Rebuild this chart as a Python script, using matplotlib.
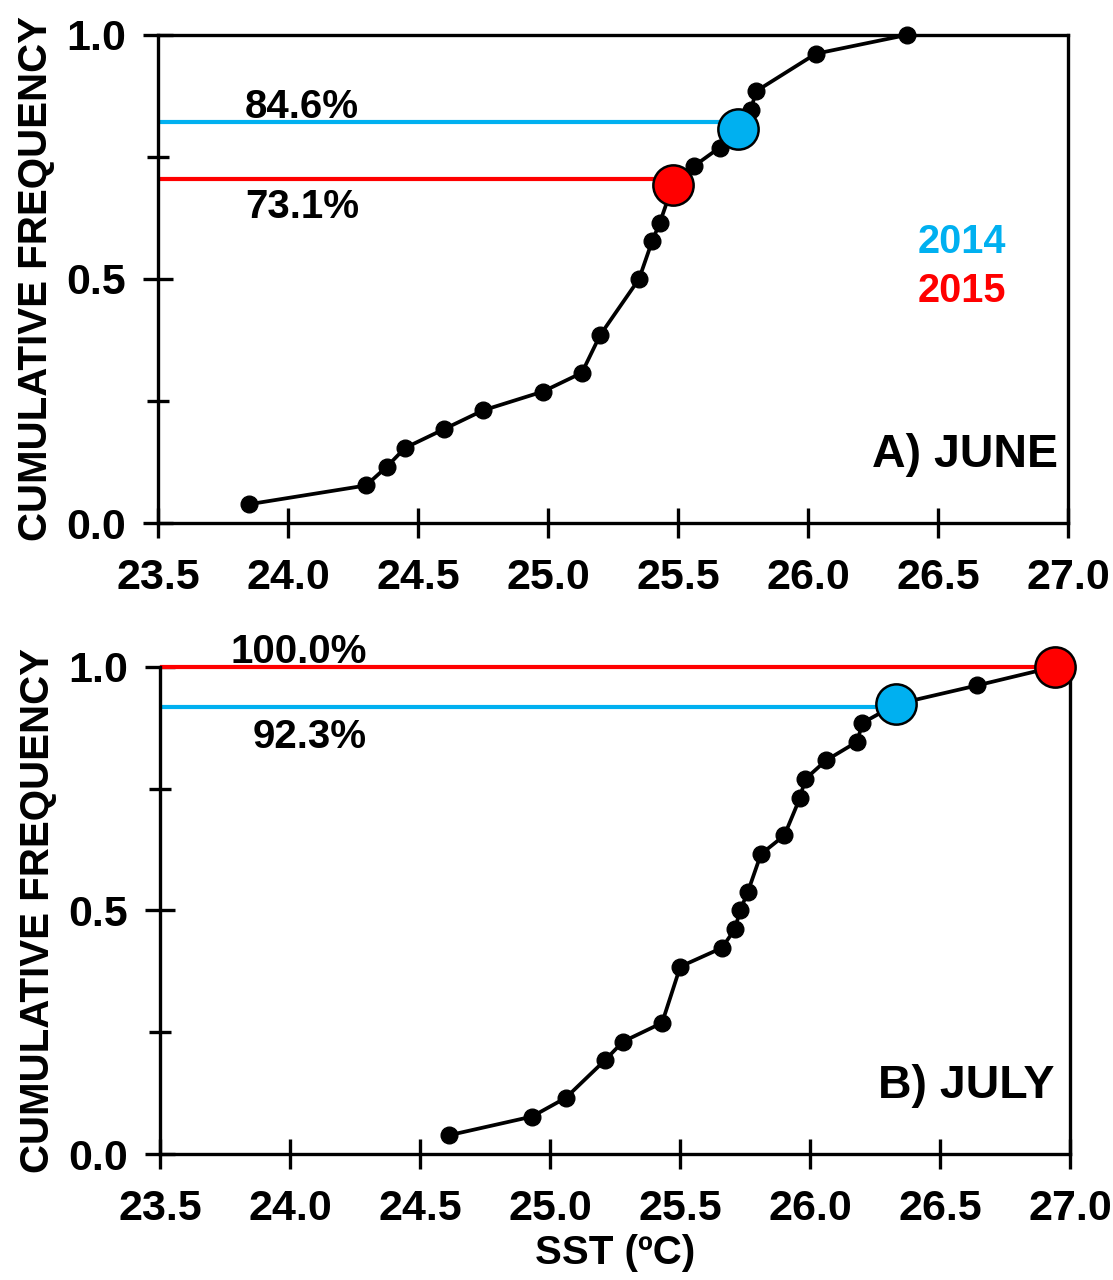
import matplotlib.pyplot as plt
import numpy as np

plt.rcParams['font.family'] = ['Liberation Sans', 'DejaVu Sans']
plt.rcParams['font.weight'] = 'bold'

n = 26
# June: SST values and cumulative counts (out of 26)
june_sst = [23.85, 24.30, 24.38, 24.45, 24.60, 24.75, 24.98, 25.13, 25.20, 25.35,
            25.40, 25.43, 25.48, 25.56, 25.66, 25.73, 25.78, 25.80, 26.03, 26.38]
june_cnt = [1, 2, 3, 4, 5, 6, 7, 8, 10, 13, 15, 16, 18, 19, 20, 21, 22, 23, 25, 26]
june_2014 = (25.73, 21)
june_2015 = (25.48, 18)
june_lines = {'2014': 0.822, '2015': 0.704}
june_labels = ['84.6%', '73.1%']

# July
july_sst = [24.61, 24.93, 25.06, 25.21, 25.28, 25.43, 25.50, 25.66, 25.71, 25.73,
            25.76, 25.81, 25.90, 25.96, 25.98, 26.06, 26.18, 26.20, 26.33, 26.64, 26.94]
july_cnt = [1, 2, 3, 5, 6, 7, 10, 11, 12, 13, 14, 16, 17, 19, 20, 21, 22, 23, 24, 25, 26]
july_2014 = (26.33, 24)
july_2015 = (26.94, 26)
july_lines = {'2014': 0.917, '2015': 1.0}
july_labels = ['92.3%', '100.0%']

blue = '#00B0F0'
red = '#FF0000'

fig = plt.figure(figsize=(11.13, 12.8), dpi=100)
ax1 = fig.add_axes([0.142, 0.5914, 0.8176, 0.3813])
ax2 = fig.add_axes([0.1438, 0.0984, 0.818, 0.3807])


def style(ax):
    ax.set_xlim(23.5, 27.0)
    ax.set_ylim(0, 1.0)
    ax.set_xticks(np.arange(23.5, 27.01, 0.5))
    ax.set_xticklabels(['%.1f' % v for v in np.arange(23.5, 27.01, 0.5)])
    ax.set_yticks([0, 0.5, 1.0])
    ax.set_yticklabels(['0.0', '0.5', '1.0'])
    ax.set_yticks([0.25, 0.75], minor=True)
    ax.tick_params(axis='both', which='major', direction='inout', length=22, width=2.4,
                   labelsize=31)
    ax.tick_params(axis='x', which='major', pad=14)
    ax.tick_params(axis='y', which='major', pad=12)
    ax.tick_params(axis='y', which='minor', direction='inout', length=16, width=2.4)
    for s in ax.spines.values():
        s.set_linewidth(2.4)
    ax.set_ylabel('CUMULATIVE FREQUENCY', fontsize=29, fontweight='bold', labelpad=8)


style(ax1)
style(ax2)
ax2.spines['top'].set_visible(False)

# June panel
y = np.array(june_cnt) / n
ax1.hlines(june_lines['2014'], 23.5, june_2014[0], color=blue, lw=3, zorder=2)
ax1.hlines(june_lines['2015'], 23.5, june_2015[0], color=red, lw=3, zorder=2)
ax1.plot(june_sst, y, '-o', color='black', lw=2.7, ms=12, zorder=3, clip_on=False)
ax1.plot(june_2014[0], june_2014[1] / n, 'o', ms=29, mfc=blue, mec='black', mew=1.8, zorder=4)
ax1.plot(june_2015[0], june_2015[1] / n, 'o', ms=29, mfc=red, mec='black', mew=1.8, zorder=4)
ax1.text(23.835, 0.830, june_labels[0], fontsize=29, fontweight='bold', va='baseline')
ax1.text(23.835, 0.686, june_labels[1], fontsize=29, fontweight='bold', va='top')
ax1.text(26.42, 0.553, '2014', color=blue, fontsize=28.5, fontweight='bold', va='baseline')
ax1.text(26.42, 0.453, '2015', color=red, fontsize=28.5, fontweight='bold', va='baseline')
ax1.text(26.96, 0.115, 'A) JUNE', fontsize=33.5, fontweight='bold', ha='right', va='baseline')

# July panel
y = np.array(july_cnt) / n
ax2.hlines(july_lines['2014'], 23.5, july_2014[0], color=blue, lw=3, zorder=2)
ax2.hlines(july_lines['2015'], 23.5, july_2015[0], color=red, lw=3, zorder=2, clip_on=False)
ax2.plot(july_sst, y, '-o', color='black', lw=2.7, ms=12, zorder=3, clip_on=False)
ax2.plot(july_2014[0], july_2014[1] / n, 'o', ms=29, mfc=blue, mec='black', mew=1.8, zorder=4,
         clip_on=False)
ax2.plot(july_2015[0], july_2015[1] / n, 'o', ms=29, mfc=red, mec='black', mew=1.8, zorder=4,
         clip_on=False)
ax2.text(23.77, 1.008, july_labels[1], fontsize=29, fontweight='bold', va='baseline')
ax2.text(23.854, 0.895, july_labels[0], fontsize=29, fontweight='bold', va='top')
ax2.text(26.94, 0.115, 'B) JULY', fontsize=33.5, fontweight='bold', ha='right', va='baseline')
ax2.set_xlabel('SST (ºC)', fontsize=29, fontweight='bold', labelpad=4)

fig.savefig('out.png', dpi=100)
